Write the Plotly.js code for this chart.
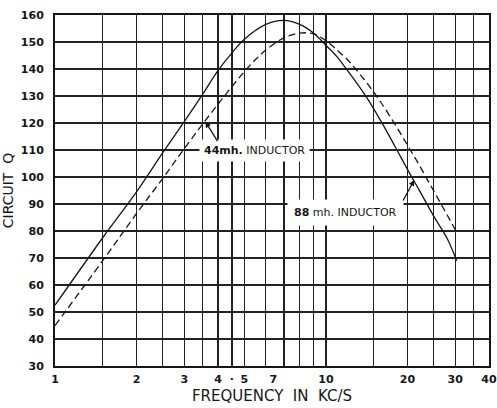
<!DOCTYPE html>
<html>
<head>
<meta charset="utf-8">
<script src="https://cdn.plot.ly/plotly-3.0.1.min.js"></script>
<style>html,body{margin:0;padding:0;background:#fff;}#chart{width:497px;height:408px;}</style>
</head>
<body>
<div id="chart"></div>
<script>
// Frequency (kc/s) and circuit Q
const freqSolid = [1, 1.5, 2, 2.5, 3, 3.5, 4, 4.5, 5, 6, 7, 8, 9, 10, 11, 12, 14, 16, 18, 20, 22, 25, 28, 30.4];
const qSolid    = [52.5, 77.5, 94.5, 109, 120.5, 130.5, 139.5, 146, 151, 156.5, 158, 156.5, 153.3, 148.8, 144.5, 139.5, 130.1, 120.5, 111.3, 102.8, 95.5, 85.5, 77.3, 69];

const freqDashed = [1, 1.5, 2, 2.5, 3, 3.5, 4, 4.5, 5, 5.5, 6, 7, 8, 9, 10, 11, 12, 13, 14, 15, 16, 18, 20, 22, 24, 26, 28, 30.2];
const qDashed    = [45, 69, 86.5, 99.5, 110.5, 119.5, 127, 133.5, 139, 143.5, 147, 151.5, 153.3, 153, 150.5, 147, 143.5, 139.5, 135.5, 131.5, 127.5, 119.5, 111.8, 104.8, 98, 91.8, 86, 80];

const xTickVals = [1, 2, 3, 4, 4.5, 5, 6.4, 10, 20, 30, 40];
const xTickText = ['1', '2', '3', '4', '·', '5', '7', '10', '20', '30', '40'];
const xGridVals = [1, 1.5, 2, 2.5, 3, 3.5, 4, 4.5, 5, 6, 7, 8, 9, 10, 15, 20, 25, 30, 35, 40];
const yTickVals = [30, 40, 50, 60, 70, 80, 90, 100, 110, 120, 130, 140, 150, 160];

const label44 = '<b>44mh.</b> INDUCTOR';
const label88 = '<b>88</b> mh. INDUCTOR';
const arrow44 = {f: 3.59, q: 120.5};
const arrow88 = {f: 21.2, q: 98.9};
const text44 = {f: 5.43, q: 110};
const text88 = {f: 11.8, q: 87};

const ink = '#161616';
const fontFam = '"DejaVu Sans", "Liberation Sans", Arial, sans-serif';

const traces = [
  {x: freqSolid, y: qSolid, type: 'scatter', mode: 'lines', name: '88 mh. INDUCTOR',
   line: {color: ink, width: 1.3, shape: 'spline', smoothing: 1}, hoverinfo: 'x+y'},
  {x: freqDashed, y: qDashed, type: 'scatter', mode: 'lines', name: '44mh. INDUCTOR',
   line: {color: ink, width: 1.3, dash: '7px,4px', shape: 'spline', smoothing: 1}, hoverinfo: 'x+y'}
];

const layout = {
  width: 497, height: 408,
  margin: {l: 55, r: 8, t: 15, b: 42, pad: 0},
  paper_bgcolor: '#fff', plot_bgcolor: '#fff',
  showlegend: false,
  font: {family: fontFam, color: ink},
  xaxis: {
    type: 'log', range: [0, Math.log10(40)],
    tickmode: 'array', tickvals: xTickVals, ticktext: xTickText,
    showgrid: false, ticks: '', zeroline: false,
    tickfont: {size: 11, weight: 'bold', color: ink},
    ticklabelstandoff: 2,
    minor: {tickmode: 'array', tickvals: xGridVals, showgrid: true, gridcolor: '#222', gridwidth: 1.3, ticks: ''},
    showline: true, linecolor: ink, linewidth: 2, mirror: true,
    title: {text: 'FREQUENCY  IN  KC/S', font: {size: 15, color: ink}, standoff: 5}
  },
  yaxis: {
    range: [30, 160], tickmode: 'array', tickvals: yTickVals,
    showgrid: true, gridcolor: '#222', gridwidth: 1.3, ticks: '', zeroline: false,
    tickfont: {size: 11, weight: 'bold', color: ink},
    ticklabelstandoff: 7,
    showline: true, linecolor: ink, linewidth: 2, mirror: true,
    title: {text: 'CIRCUIT  Q', font: {size: 14, color: ink}, standoff: 7}
  },
  annotations: [
    {x: Math.log10(text44.f), y: text44.q, xref: 'x', yref: 'y', text: label44, showarrow: false,
     bgcolor: '#fff', borderpad: 4, font: {size: 11, color: ink}},
    {x: Math.log10(text88.f), y: text88.q, xref: 'x', yref: 'y', text: label88, showarrow: false,
     bgcolor: '#fff', borderpad: 6, font: {size: 11, color: ink}},
    {x: Math.log10(arrow44.f), y: arrow44.q, xref: 'x', yref: 'y', text: '', showarrow: true,
     ax: 13, ay: 21, arrowhead: 2, arrowsize: 0.9, arrowwidth: 1.3, arrowcolor: ink},
    {x: Math.log10(arrow88.f), y: arrow88.q, xref: 'x', yref: 'y', text: '', showarrow: true,
     ax: -12, ay: 22, arrowhead: 2, arrowsize: 0.9, arrowwidth: 1.3, arrowcolor: ink}
  ]
};

Plotly.newPlot('chart', traces, layout, {staticPlot: true, displayModeBar: false});
</script>
</body>
</html>
